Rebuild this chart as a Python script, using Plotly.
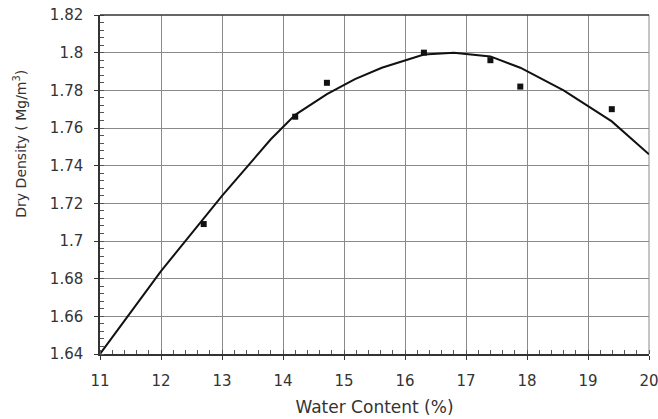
import plotly.graph_objects as go

# Measured points
water_pts = [12.7, 14.2, 14.72, 16.31, 17.40, 17.89, 19.39]
dens_pts = [1.709, 1.766, 1.784, 1.800, 1.796, 1.782, 1.770]

# Fitted curve
water_fit = [11.0, 12.0, 13.0, 13.8, 14.2, 14.72, 15.18, 15.62, 16.31, 16.8, 17.4, 17.89, 18.6, 19.39, 20.0]
dens_fit = [1.640, 1.684, 1.724, 1.754, 1.767, 1.778, 1.786, 1.792, 1.799, 1.800, 1.798, 1.792, 1.780, 1.7635, 1.746]

x_ticks = [11, 12, 13, 14, 15, 16, 17, 18, 19, 20]
y_ticks = [1.64, 1.66, 1.68, 1.70, 1.72, 1.74, 1.76, 1.78, 1.80, 1.82]
y_ticklabels = ["1.64", "1.66", "1.68", "1.7", "1.72", "1.74", "1.76", "1.78", "1.8", "1.82"]

tick_font = dict(family="DejaVu Sans", size=15, color="#333333")
xtitle_font = dict(family="DejaVu Sans", size=17, color="#333333")
ytitle_font = dict(family="DejaVu Sans", size=14, color="#333333")

fig = go.Figure()
fig.add_trace(go.Scatter(x=water_fit, y=dens_fit, mode="lines",
                         line=dict(color="#111111", width=2), showlegend=False))
fig.add_trace(go.Scatter(x=water_pts, y=dens_pts, mode="markers",
                         marker=dict(symbol="square", size=6, color="#111111"), showlegend=False))

fig.update_layout(
    width=658, height=419,
    margin=dict(l=100, r=9, t=15, b=65, autoexpand=False),
    paper_bgcolor="white", plot_bgcolor="white",
    font=tick_font,
    xaxis=dict(
        range=[11, 20], tickvals=x_ticks, ticktext=[str(v) for v in x_ticks],
        showgrid=True, gridcolor="#8a8a8a", gridwidth=1,
        showline=True, linecolor="#333333", linewidth=1.5, mirror=False,
        ticks="outside", ticklen=4, tickcolor="#333333",
        ticklabelstandoff=8, tickfont=tick_font, ticklabeloverflow="allow",
        minor=dict(dtick=0.2, ticks="inside", ticklen=4, tickcolor="#555555", showgrid=False),
        title=dict(text="Water Content (%)", font=xtitle_font, standoff=12),
        zeroline=False, automargin=False,
    ),
    yaxis=dict(
        range=[1.64, 1.82], tickvals=y_ticks, ticktext=y_ticklabels,
        showgrid=True, gridcolor="#8a8a8a", gridwidth=1,
        showline=True, linecolor="#333333", linewidth=1.5,
        ticks="outside", ticklen=4, tickcolor="#333333",
        ticklabelstandoff=8, tickfont=tick_font, ticklabeloverflow="allow",
        minor=dict(dtick=0.004, tick0=1.64, ticks="inside", ticklen=4, tickcolor="#555555", showgrid=False),
        zeroline=False, automargin=False,
    ),
)
# y-axis title placed as in the reference (above plot centre)
fig.add_annotation(text="Dry Density ( Mg/m<sup>3</sup>)", textangle=-90,
                   xref="paper", yref="paper", x=-0.146, y=0.62,
                   xanchor="center", yanchor="middle", showarrow=False, font=ytitle_font)
# top border line and right-edge grid line
fig.add_shape(type="line", xref="paper", yref="paper", x0=0, x1=1, y0=1, y1=1,
              line=dict(color="#333333", width=1.5))
fig.add_shape(type="line", xref="paper", yref="paper", x0=1, x1=1, y0=0, y1=1,
              line=dict(color="#8a8a8a", width=1), layer="below")

fig.write_html("out.html")
